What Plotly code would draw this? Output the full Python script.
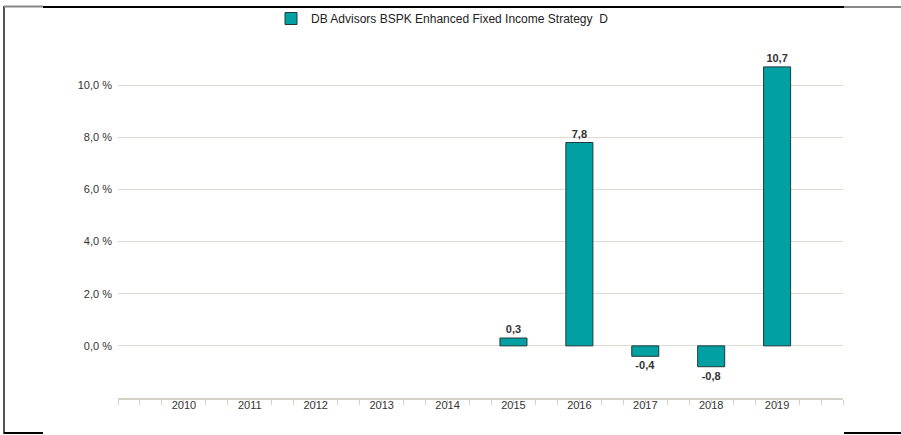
import plotly.graph_objects as go

years = [2010, 2011, 2012, 2013, 2014, 2015, 2016, 2017, 2018, 2019]
returns = [None, None, None, None, None, 0.3, 7.8, -0.4, -0.8, 10.7]
series_name = "DB Advisors BSPK Enhanced Fixed Income Strategy  D"
y_tick_vals = [0, 2, 4, 6, 8, 10, 12]
y_tick_text = ["0,0 %", "2,0 %", "4,0 %", "6,0 %", "8,0 %", "10,0 %", ""]

labels = ["" if v is None else f"{v:.1f}".replace(".", ",") for v in returns]

W, H = 901, 435
L, R, T, B = 118, 58, 33, 37
pw, ph = W - L - R, H - T - B

def px(x):
    return (x - L) / pw

def py(y):
    return (H - B - y) / ph

fig = go.Figure()
fig.add_trace(go.Bar(
    x=years, y=returns, name=series_name,
    width=0.41,
    marker=dict(color="#00A0A3", line=dict(color="#1d3a3c", width=1)),
    text=labels, textposition="outside", cliponaxis=False,
    textfont=dict(family="Liberation Sans, Arial, sans-serif", size=11, color="#333333", weight="bold"),
    showlegend=True,
))

grid = "#dedbd3"

def hline(x0, x1, y, color, layer="above"):
    return dict(type="line", xref="paper", yref="paper",
                x0=px(x0), x1=px(x1), y0=py(y), y1=py(y),
                line=dict(color=color, width=2), layer=layer)

fig.update_layout(
    width=W, height=H,
    margin=dict(l=L, r=R, t=T, b=B, autoexpand=False),
    paper_bgcolor="white", plot_bgcolor="white",
    font=dict(family="Liberation Sans, Arial, sans-serif", size=11, color="#333333"),
    showlegend=True,
    legend=dict(orientation="h", x=0.4476, xanchor="center", y=1.0, yanchor="bottom",
                bgcolor="rgba(0,0,0,0)",
                font=dict(size=12, color="#222222"), itemwidth=30),
    xaxis=dict(
        range=[2009, 2020], tickmode="array", tickvals=years,
        ticks="outside", ticklen=0, showgrid=False, zeroline=False,
        showline=True, linecolor="#d6d2c8", linewidth=2,
        tickfont=dict(size=11, color="#333333"), ticklabelstandoff=-4,
        minor=dict(tick0=2009, dtick=1/3, ticks="outside", ticklen=5, tickcolor="#d6d2c8", showgrid=False),
    ),
    yaxis=dict(
        range=[-2, 12], tickmode="array", tickvals=y_tick_vals, ticktext=y_tick_text,
        showgrid=True, gridcolor=grid, gridwidth=1,
        zeroline=True, zerolinecolor=grid, zerolinewidth=1,
        showline=False, ticks="", ticklabelstandoff=5,
        tickfont=dict(size=11, color="#333333"),
    ),
    shapes=[
        dict(type="line", xref="paper", yref="paper", x0=px(4), x1=px(4), y0=py(6), y1=py(434),
             line=dict(color="#555555", width=2), layer="above"),
        hline(4, 43, 6.5, "#888888"),
        hline(43, 844, 7, "#000000", "below"),
        hline(43, 844, 7, "#000000", "above"),
        hline(844, 901, 7, "#888888"),
        hline(4, 43, 433, "#000000"),
        hline(844, 901, 433, "#000000"),
    ],
)

fig.write_html("out.html", config={"displayModeBar": False},
               post_script="document.body.style.margin='0px';document.body.style.overflow='hidden';")
